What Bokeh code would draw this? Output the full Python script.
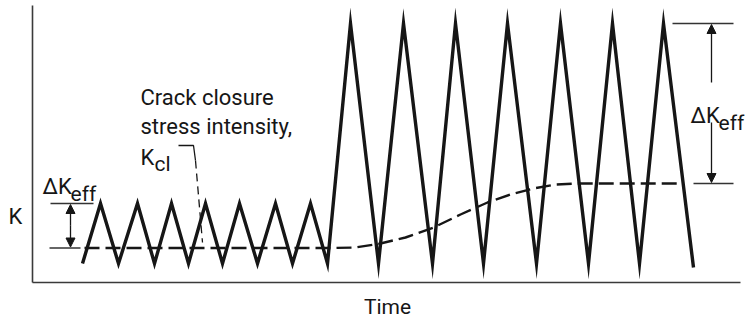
from bokeh.plotting import figure
from bokeh.models import Range1d, Arrow, NormalHead
from bokeh.core.properties import value
from bokeh.embed import file_html
from bokeh.resources import INLINE

# Applied stress intensity K versus time: low-amplitude cycling followed by high-amplitude cycling
wave_time = [5.0, 6.8, 8.6, 10.5, 12.2, 13.9, 15.6, 17.3, 19.0, 20.7, 22.5, 24.3, 26.0, 27.8, 29.5,
             31.8, 34.6, 37.1, 40.0, 42.3, 45.1, 47.5, 50.4, 52.8, 55.6, 58.0, 60.7, 63.1, 66.1]
wave_k = [1.9, 7.9, 1.9, 7.9, 1.9, 7.9, 1.9, 7.9, 1.9, 7.9, 1.9, 7.9, 1.9, 7.9, 1.9,
          25.9, 1.9, 25.9, 1.9, 25.9, 1.9, 25.9, 1.9, 25.9, 1.9, 25.9, 1.9, 25.9, 1.5]

# Crack closure stress intensity K_cl, rising after the load change
kcl_time = [5.2, 29.8, 32.3, 34.8, 37.3, 40.1, 42.8, 45.5, 47.8, 50.1, 52.3, 54.5, 65.1]
kcl_k = [3.45, 3.45, 3.5, 3.9, 4.5, 5.5, 6.8, 8.0, 8.8, 9.4, 9.8, 9.9, 9.9]

small_peak = 7.9
large_peak = 25.9
kcl_low = kcl_k[0]
kcl_high = kcl_k[-1]

x_end = 70.8
y_end = 27.7

INK = "#161616"
FONT = value("Roboto")

p = figure(width=751, height=323, output_backend="svg", toolbar_location=None,
           x_range=Range1d(-3.2, 71.9), y_range=Range1d(-4.1, 28.2),
           min_border=0, background_fill_color="white", border_fill_color="white")
p.axis.visible = False
p.grid.visible = False
p.outline_line_color = None

# axes
p.segment(x0=[0, 0], y0=[0, 0], x1=[0, x_end], y1=[y_end, 0],
          line_color="#3a3a3a", line_width=1.6)

# load waveform
p.line(wave_time, wave_k, line_color=INK, line_width=3.4, line_join="miter")

# closure level
p.line(kcl_time, kcl_k, line_color=INK, line_width=2.4, line_dash="15 6")

# dimension lines for the effective range
p.segment(x0=[1.8, 1.7, 64.0, 66.1], y0=[small_peak, kcl_low, large_peak, kcl_high],
          x1=[6.1, 4.8, 70.1, 70.1], y1=[small_peak, kcl_low, large_peak, kcl_high],
          line_color="#333333", line_width=1.3)

head = dict(size=9, fill_color=INK, line_color=INK)
p.add_layout(Arrow(x_start=3.8, y_start=(small_peak + kcl_low) / 2, x_end=3.8, y_end=small_peak - 0.1,
                   end=NormalHead(**head), line_color=INK, line_width=1.3))
p.add_layout(Arrow(x_start=3.8, y_start=(small_peak + kcl_low) / 2, x_end=3.8, y_end=kcl_low + 0.1,
                   end=NormalHead(**head), line_color=INK, line_width=1.3))
p.add_layout(Arrow(x_start=67.9, y_start=20.0, x_end=67.9, y_end=large_peak - 0.1,
                   end=NormalHead(**head), line_color=INK, line_width=1.3))
p.add_layout(Arrow(x_start=67.9, y_start=16.0, x_end=67.9, y_end=kcl_high + 0.1,
                   end=NormalHead(**head), line_color=INK, line_width=1.3))

# leader from the K_cl label to the closure line
p.line([14.6, 16.1, 16.3], [13.7, 13.7, 12.2], line_color=INK, line_width=1.3)
p.line([16.3, 17.0], [12.2, 4.0], line_color=INK, line_width=1.3, line_dash="8 5")

def txt(x, y, s, size="22px", align="left", baseline="alphabetic"):
    p.text(x=[x], y=[y], text=[s], text_font=FONT, text_font_size=size,
           text_color=INK, text_align=align, text_baseline=baseline)

txt(10.8, 18.5, "Crack closure")
txt(10.8, 15.6, "stress intensity,")
txt(10.8, 12.5, "K")
txt(12.2, 11.9, "cl", size="21px")

txt(1.0, 9.6, "ΔK")
txt(3.8, 8.9, "eff", size="21px")
txt(65.8, 16.7, "ΔK")
txt(68.6, 16.0, "eff", size="21px")

txt(-2.4, 6.6, "K")
txt(35.5, -2.4, "Time", size="21px", align="center", baseline="middle")

open("out.html", "w").write(file_html(p, INLINE))
